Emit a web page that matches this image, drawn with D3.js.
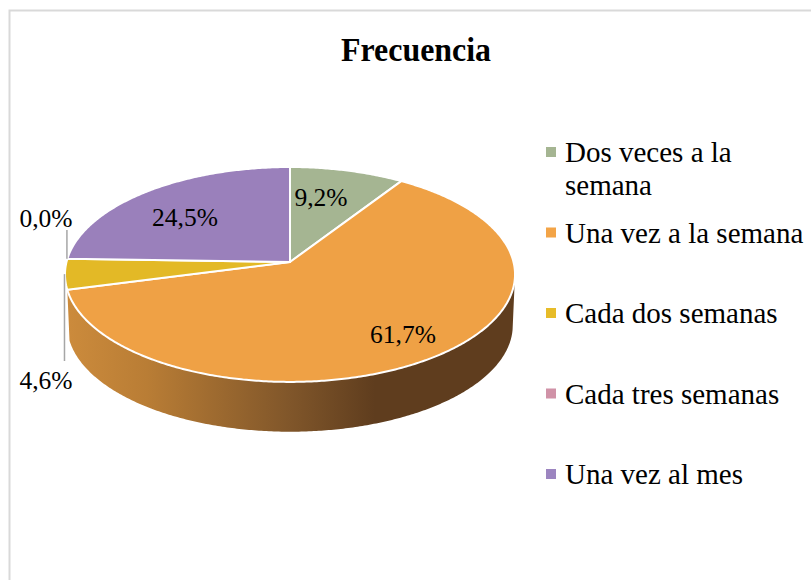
<!DOCTYPE html>
<html>
<head>
<meta charset="utf-8">
<script src="https://cdn.jsdelivr.net/npm/d3@7"></script>
<style>
  html, body { margin: 0; padding: 0; background: #fff; }
  svg { display: block; }
  text { font-family: "Liberation Serif", serif; fill: #000; }
</style>
</head>
<body>
<svg id="chart"></svg>
<script>
const categories = ["Dos veces a la semana", "Una vez a la semana", "Cada dos semanas", "Cada tres semanas", "Una vez al mes"];
const values = [9.2, 61.7, 4.6, 0.0, 24.5];
const colors = ["#a5b592", "#f3a447", "#e7bc29", "#d092a7", "#9c85c0"];
const topColors = ["#a5b592", "#efa145", "#e3b926", "#d092a7", "#9a80bb"];

const width = 811, height = 580;
// pie apex and the perspective of the tilted disc
const cx = 290, cy = 262, rx = 223.5, ry = 106, tilt = 0.116;
const depth = 51, floorScale = 0.99;
// label offsets from the apex, by slice index
const labelDx = { 0: 31, 1: 113, 2: -244, 3: -244, 4: -105 };
const labelDy = { 0: -56, 1: 81, 2: 127, 3: -35, 4: -36 };

const svg = d3.select("#chart").attr("width", width).attr("height", height);
const fmt = v => v.toFixed(1).replace(".", ",") + "%";
const color = d3.scaleOrdinal().domain(categories).range(colors);
const topColor = d3.scaleOrdinal().domain(categories).range(topColors);

const project = function (a, scale, dy) {
  const u = Math.sin(a), v = -Math.cos(a);
  const s = (scale || 1) / (1 - tilt * v);
  return [cx + rx * u * s, cy + (dy || 0) + ry * v * s];
};

const arcPoints = function (a0, a1, scale, dy) {
  const n = Math.max(2, Math.ceil(Math.abs(a1 - a0) / 0.01));
  return d3.range(n + 1).map(i => project(a0 + (a1 - a0) * i / n, scale, dy));
};

const line = d3.line();
const slices = d3.pie().sort(null).value(d => d.value)(
  categories.map((name, i) => ({ name: name, value: values[i] }))
);

// chart frame, right and bottom sides run off the picture
svg.append("rect")
  .attr("x", 9.5).attr("y", 10.5)
  .attr("width", width + 40).attr("height", height + 40)
  .attr("fill", "#fff").attr("stroke", "#d9d9d9").attr("stroke-width", 2);

svg.append("text")
  .attr("x", 416).attr("y", 61)
  .attr("text-anchor", "middle")
  .attr("font-size", 33).attr("font-weight", "bold")
  .attr("textLength", 150).attr("lengthAdjust", "spacingAndGlyphs")
  .text("Frecuencia");

const grad = svg.append("defs").append("linearGradient")
  .attr("id", "wall")
  .attr("gradientUnits", "userSpaceOnUse")
  .attr("x1", cx - rx).attr("x2", cx + rx).attr("y1", 0).attr("y2", 0);
[[0, "#cc8b3c"], [0.18, "#b97d35"], [0.5, "#80562a"], [0.69, "#5f3d1e"], [1, "#5f3d1e"]].forEach(s => {
  grad.append("stop").attr("offset", s[0]).attr("stop-color", s[1]);
});

// outer wall, only the big slice shows it
const wallSlice = slices[1];
const wallStart = Math.PI * 0.55;
const wall = arcPoints(wallStart, wallSlice.endAngle)
  .concat(arcPoints(wallSlice.endAngle, wallStart, floorScale, depth));
svg.append("path")
  .attr("d", line(wall) + "Z")
  .attr("fill", "url(#wall)");

svg.append("g").selectAll("path")
  .data(slices.filter(d => d.value > 0))
  .join("path")
  .attr("d", d => line([[cx, cy]].concat(arcPoints(d.startAngle, d.endAngle))) + "Z")
  .attr("fill", d => topColor(d.data.name))
  .attr("stroke", "#fff")
  .attr("stroke-width", 2)
  .attr("stroke-linejoin", "round");

// leader lines for the two outside labels
svg.append("g").selectAll("line")
  .data(slices.filter(d => labelDx[d.index] < -200))
  .join("line")
  .each(function (d) {
    const p = project((d.startAngle + d.endAngle) / 2);
    d3.select(this)
      .attr("x1", p[0] - 0.5).attr("y1", p[1])
      .attr("x2", p[0] - 0.5).attr("y2", d.value > 0 ? cy + 99 : cy - 32);
  })
  .attr("stroke", "#a6a6a6")
  .attr("stroke-width", 1.5);

svg.append("g").selectAll("text")
  .data(slices)
  .join("text")
  .attr("x", d => cx + labelDx[d.index])
  .attr("y", d => cy + labelDy[d.index])
  .attr("text-anchor", "middle")
  .attr("font-size", 25.5)
  .text(d => fmt(d.value));

// legend
const legendY = d3.scalePoint().domain(categories).range([152, 474]);
const legend = svg.append("g").selectAll("g")
  .data(categories)
  .join("g")
  .attr("transform", d => `translate(546,${legendY(d)})`);

legend.append("rect")
  .attr("y", -5).attr("width", 10).attr("height", 10)
  .attr("fill", d => color(d));

legend.append("text")
  .attr("font-size", 29)
  .each(function (d) {
    const t = d3.select(this);
    let row = [], lineNo = 0;
    let span = t.append("tspan").attr("x", 19).attr("y", 10);
    d.split(" ").forEach(word => {
      row.push(word);
      span.text(row.join(" "));
      if (span.node().getComputedTextLength() > 245) {
        row.pop();
        span.text(row.join(" "));
        row = [word];
        lineNo++;
        span = t.append("tspan").attr("x", 19).attr("y", 10 + lineNo * 33).text(word);
      }
    });
  });
</script>
</body>
</html>
